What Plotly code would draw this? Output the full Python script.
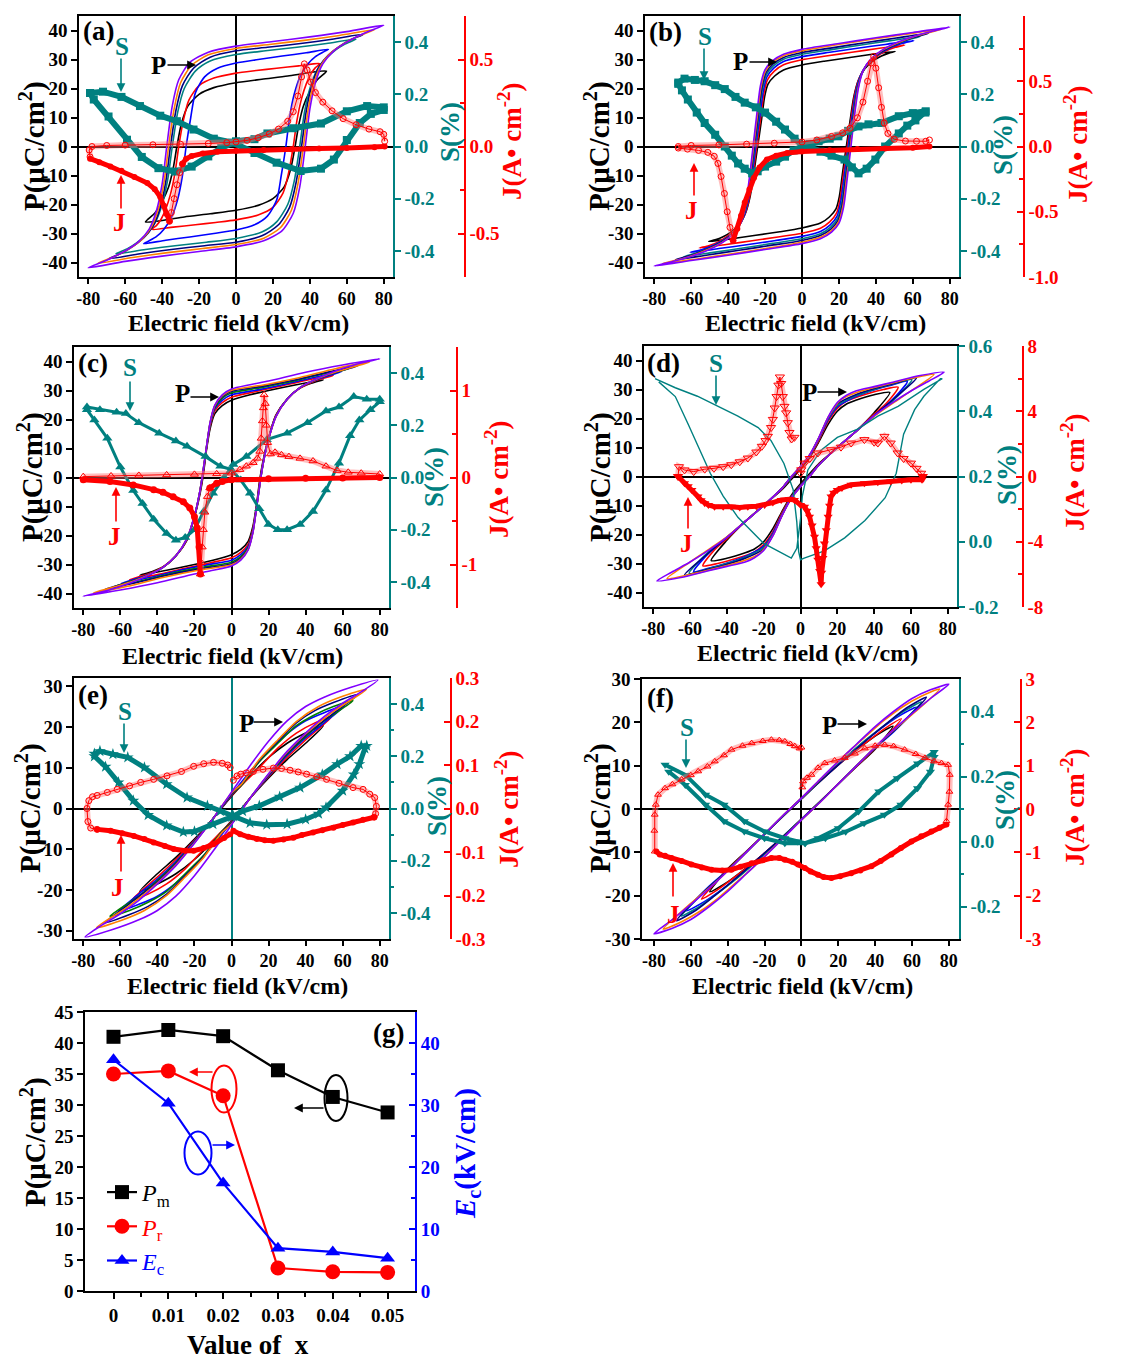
import plotly.graph_objects as go

FONT = "Liberation Serif"
W, H = 1137, 1358
TEAL = "#008080"
RED = "#FF0000"
BLUE = "#0000FF"
BLACK = "#000000"

# ---------------- tick labels ----------------
E_TICKS = [-80, -60, -40, -20, 0, 20, 40, 60, 80]
E_LABELS = ["-80", "-60", "-40", "-20", "0", "20", "40", "60", "80"]
P_TICKS_40 = [-40, -30, -20, -10, 0, 10, 20, 30, 40]
P_TICKS_30 = [-30, -20, -10, 0, 10, 20, 30]
S_TICKS_STD = [-0.4, -0.2, 0.0, 0.2, 0.4]
S_LABELS_STD = ["-0.4", "-0.2", "0.0", "0.2", "0.4"]
S_TICKS_D = [-0.2, 0.0, 0.2, 0.4, 0.6]
S_LABELS_D = ["-0.2", "0.0", "0.2", "0.4", "0.6"]
S_TICKS_F = [-0.2, 0.0, 0.2, 0.4]
S_LABELS_F = ["-0.2", "0.0", "0.2", "0.4"]
J_TICKS_A = [-0.5, 0.0, 0.5]
J_LABELS_A = ["-0.5", "0.0", "0.5"]
J_TICKS_B = [-1.0, -0.5, 0.0, 0.5, 1.0]
J_LABELS_B = ["-1.0", "-0.5", "0.0", "0.5", "1.0"]
J_TICKS_C = [-1, 0, 1]
J_LABELS_C = ["-1", "0", "1"]
J_TICKS_D = [-8, -4, 0, 4, 8]
J_LABELS_D = ["-8", "-4", "0", "4", "8"]
J_TICKS_E = [-0.3, -0.2, -0.1, 0.0, 0.1, 0.2, 0.3]
J_LABELS_E = ["-0.3", "-0.2", "-0.1", "0.0", "0.1", "0.2", "0.3"]
J_TICKS_F = [-3, -2, -1, 0, 1, 2, 3]
J_LABELS_F = ["-3", "-2", "-1", "0", "1", "2", "3"]

# ---------------- panel (g) data ----------------
X_G = [0, 0.01, 0.02, 0.03, 0.04, 0.05]
X_G_LABELS = ["0", "0.01", "0.02", "0.03", "0.04", "0.05"]
PM = [41.0, 42.1, 41.1, 35.6, 31.3, 28.8]
PR = [35.0, 35.5, 31.5, 3.7, 3.1, 3.0]
EC = [37.3, 30.3, 17.4, 6.9, 6.3, 5.3]

# ---------------- P-E loops: measured upper branch (E from +Emax to -Emax) ----------------
# loops are point-symmetric, the lower branch is the upper one mirrored through the origin
LOOPS_A = [
    [(49, 26), (40, 25.5), (28, 24.3), (14, 23.2), (0, 22), (-12, 20.3), (-20, 18), (-26, 14), (-29.5, 8), (-32, 0), (-34, -7.5), (-36.5, -14), (-40, -19), (-44, -23), (-49, -26)],
    [(45.5, 28.6), (34, 27.8), (22, 27), (11, 26.2), (0, 25.3), (-12, 23.6), (-20, 21), (-25.5, 16), (-28.5, 9), (-31, 0), (-33, -9), (-35.5, -16.5), (-38, -21.5), (-40.5, -25), (-43, -27.2), (-45.5, -28.6)],
    [(50, 33.5), (38, 32.3), (25, 31.2), (12, 30), (0, 28.8), (-10, 27), (-17, 24), (-22, 18.5), (-24.5, 10), (-27, 0), (-29, -10), (-31.5, -18), (-35, -24.5), (-39, -28.5), (-43, -31), (-47, -32.5), (-50, -33.5)],
    [(65, 37), (49, 35.5), (33, 34.2), (16, 33), (0, 31.7), (-14, 29.5), (-22, 26), (-28, 20), (-31.5, 12), (-34.5, 0), (-37, -11.5), (-40, -20), (-44, -26.5), (-49, -30.5), (-54, -33.3), (-59, -35.3), (-65, -37)],
    [(69, 38.7), (52, 37), (35, 35.5), (17, 34.2), (0, 33), (-14, 30.8), (-23, 27), (-29, 21), (-32.5, 12.5), (-35.5, 0), (-38, -12), (-41, -21), (-45, -27.5), (-50, -31.5), (-56, -34.5), (-62, -36.8), (-69, -38.7)],
    [(75, 40.3), (56, 38.3), (37, 36.6), (18, 35.2), (0, 33.8), (-15, 31.6), (-24, 28), (-30, 22), (-33.5, 13), (-36.5, 0), (-39, -12.5), (-42, -21.5), (-46, -28), (-51, -32), (-58, -35.3), (-66, -38), (-75, -40.3)],
    [(80, 41.8), (60, 39.6), (40, 37.8), (20, 36.2), (0, 34.6), (-15, 32.5), (-25, 29), (-31, 23), (-34.5, 14), (-37.5, 0), (-40, -13), (-43, -22), (-47, -28.5), (-53, -33), (-60, -36), (-70, -39.2), (-80, -41.8)],
]
LOOPS_B = [
    [(50.5, 32.8), (38, 31.8), (25, 30.6), (12, 29.4), (0, 28.1), (-10, 26.4), (-14.8, 24.3), (-18.4, 21.5), (-20.2, 17.3), (-22, 8.8), (-24, 0), (-26, -8.8), (-28, -17), (-30.5, -22.8), (-34, -26.8), (-38.5, -29.5), (-43, -31.2), (-47, -32.2), (-50.5, -32.8)],
    [(55.5, 35), (41, 33.8), (27, 32.5), (13, 31.2), (0, 29.9), (-10, 28.2), (-15, 26), (-18.7, 23), (-20.6, 18.3), (-22.5, 9.3), (-24.5, 0), (-26.5, -9.3), (-28.5, -17.8), (-31, -23.6), (-34.5, -27.6), (-39.5, -30.5), (-45, -32.8), (-50.5, -34.2), (-55.5, -35)],
    [(60.5, 36.5), (45, 35.2), (30, 33.9), (15, 32.5), (0, 31), (-10, 29.3), (-15.3, 27), (-19, 24), (-21, 19), (-23, 9.7), (-25, 0), (-27, -9.7), (-29, -18.3), (-31.5, -24.2), (-35, -28.2), (-40, -31.2), (-47, -33.8), (-54, -35.5), (-60.5, -36.5)],
    [(64, 38), (48, 36.5), (32, 35), (16, 33.4), (0, 31.8), (-10, 30.1), (-15.5, 27.8), (-19.3, 24.8), (-21.5, 19.5), (-23.5, 10), (-25.5, 0), (-27.5, -10), (-29.5, -18.7), (-32, -24.6), (-35.5, -28.6), (-41, -31.8), (-48, -34.4), (-56, -36.5), (-64, -38)],
    [(68.5, 39), (51, 37.4), (34, 35.8), (17, 34.1), (0, 32.4), (-10, 30.7), (-15.8, 28.4), (-19.6, 25.4), (-21.8, 20), (-23.8, 10.2), (-25.8, 0), (-27.8, -10.2), (-29.8, -19), (-32.3, -25), (-36, -29), (-42, -32.3), (-50, -35), (-59, -37.3), (-68.5, -39)],
    [(75.5, 40.4), (56, 38.7), (37, 36.9), (18, 35), (0, 33), (-10, 31.3), (-16, 29), (-19.8, 26), (-22.2, 20.5), (-24.2, 10.5), (-26.2, 0), (-28.2, -10.5), (-30.2, -19.5), (-32.7, -25.5), (-36.5, -29.5), (-43, -33), (-51, -35.5), (-62, -38.2), (-75.5, -40.4)],
    [(80, 41.2), (60, 39.3), (40, 37.5), (20, 35.5), (0, 33.5), (-10, 31.8), (-16, 29.5), (-20, 26.5), (-22.5, 21), (-24.5, 11), (-26.5, 0), (-28.5, -11), (-30.5, -20), (-33, -26), (-37, -30), (-44, -33.5), (-52, -36), (-62, -38.3), (-71, -39.8), (-80, -41.2)],
]
LOOPS_C = [
    [(49.5, 33.7), (35, 32), (20, 30), (10, 28.5), (0, 26.6), (-5, 24.8), (-9, 22), (-11.5, 17), (-13.5, 9.5), (-15.2, 1), (-16.8, -5), (-19.5, -12.5), (-24, -21.5), (-30, -27), (-36, -30.5), (-43, -32.5), (-49.5, -33.7)],
    [(55, 35.2), (40, 33.5), (25, 31.3), (12, 29.5), (0, 27.7), (-5, 25.8), (-9, 23), (-11.5, 17.8), (-13.5, 10), (-15.3, 1.2), (-16.9, -4.8), (-19.5, -12.3), (-24, -21.5), (-30, -27), (-37, -30.8), (-45, -33.3), (-55, -35.2)],
    [(59.5, 36.5), (45, 34.6), (30, 32.3), (15, 30.3), (0, 28.5), (-5, 26.6), (-9, 23.7), (-11.5, 18.3), (-13.5, 10.2), (-15.4, 1.3), (-17, -4.7), (-19.5, -12.2), (-24, -21.3), (-30, -27), (-37, -31), (-47, -34), (-59.5, -36.5)],
    [(64, 37.7), (48, 35.5), (32, 33), (16, 31), (0, 29.2), (-5, 27.3), (-9, 24.2), (-11.5, 18.7), (-13.5, 10.4), (-15.5, 1.4), (-17, -4.6), (-19.5, -12.1), (-24, -21.2), (-30, -27), (-37, -31), (-48, -34.5), (-64, -37.7)],
    [(68.5, 38.6), (51, 36.2), (34, 33.6), (17, 31.5), (0, 29.7), (-5, 27.8), (-9, 24.6), (-11.5, 18.9), (-13.5, 10.5), (-15.5, 1.5), (-17, -4.5), (-19.5, -12), (-24, -21.1), (-30, -27), (-37, -31), (-50, -35), (-68.5, -38.6)],
    [(74.5, 39.8), (56, 37.5), (37, 34.5), (18, 32), (0, 30.1), (-5, 28.2), (-9, 24.8), (-11.5, 19), (-13.5, 10.5), (-15.5, 1.5), (-17, -4.5), (-19.5, -12), (-24, -21), (-30, -27), (-37, -31), (-52, -35.5), (-74.5, -39.8)],
    [(80, 40.9), (60, 38.8), (40, 36.3), (20, 33.3), (10, 32), (0, 30.5), (-5, 28.5), (-9, 25), (-11.5, 19.2), (-13.5, 10.6), (-15.5, 1.5), (-17, -4.5), (-19.5, -12), (-24, -21), (-30, -27), (-37, -31), (-44, -33.5), (-55, -36.5), (-67, -39), (-80, -40.9)],
]
LOOPS_D = [
    [(48.5, 29), (40, 28.2), (30, 26.3), (25, 25), (20, 22.5), (15, 18), (10, 12), (5, 6.5), (0, 2.5), (-5, -1), (-10, -4.5), (-20, -10), (-30, -15.5), (-40, -22), (-48.5, -29)],
    [(53, 30.8), (45, 30), (35, 28.3), (25, 26), (20, 23.5), (15, 19), (10, 12.5), (5, 7), (0, 3), (-5, -0.5), (-10, -4.2), (-20, -10), (-30, -15.5), (-40, -21.5), (-47, -25.5), (-53, -30.8)],
    [(58, 32.8), (48, 31.3), (38, 29.5), (28, 27), (20, 24), (15, 19.5), (10, 13), (5, 7.2), (0, 3.2), (-5, -0.3), (-10, -4), (-20, -10), (-30, -15.5), (-40, -21), (-50, -26.5), (-58, -32.8)],
    [(60.5, 33.4), (50, 31.8), (40, 30), (30, 27.8), (20, 24.5), (15, 20), (10, 13.2), (5, 7.3), (0, 3.3), (-5, -0.2), (-10, -4), (-20, -10), (-30, -15.5), (-40, -21), (-50, -26), (-60.5, -33.4)],
    [(63, 34), (52, 32.3), (41, 30.5), (30, 28.2), (20, 25), (15, 20.2), (10, 13.3), (5, 7.4), (0, 3.4), (-5, -0.1), (-10, -4), (-20, -10), (-30, -15.5), (-40, -21), (-52, -27.5), (-63, -34)],
    [(72.5, 35.2), (60, 33.8), (45, 31.5), (32, 29.3), (22, 26.5), (15, 20.4), (10, 13.4), (5, 7.5), (0, 3.5), (-5, 0), (-10, -4), (-20, -10), (-30, -15.5), (-40, -20.8), (-50, -25.2), (-60, -29.5), (-72.5, -35.2)],
    [(78, 36), (65, 34.8), (50, 32.5), (40, 31), (30, 29.5), (25, 28), (20, 25.5), (15, 20.5), (10, 13.5), (5, 7.5), (0, 3.5), (-5, 0), (-10, -4), (-20, -10), (-30, -15.5), (-40, -21), (-50, -25.5), (-60, -29.5), (-70, -33), (-78, -36)],
]
LOOPS_E = [
    [(49.5, 20.3), (40, 18.5), (30, 16), (20, 12.5), (10, 8), (0, 3), (-10, -2.5), (-20, -7.5), (-30, -12), (-40, -16), (-49.5, -20.3)],
    [(54, 22.5), (45, 21), (35, 18.5), (25, 14.8), (15, 10), (5, 5.5), (0, 3.2), (-10, -2.5), (-20, -7.8), (-30, -12.5), (-40, -16.8), (-54, -22.5)],
    [(61, 25.2), (50, 23.5), (40, 21.5), (30, 18.3), (20, 14), (10, 9), (0, 3.4), (-10, -2.5), (-20, -8), (-30, -13), (-40, -17.3), (-50, -21), (-61, -25.2)],
    [(65.6, 26.4), (55, 25), (45, 23), (35, 20.3), (25, 16), (15, 11.5), (5, 5.5), (0, 3.5), (-10, -2.5), (-20, -8.2), (-30, -13.3), (-40, -17.7), (-50, -21.5), (-65.6, -26.4)],
    [(68.3, 28), (55, 26), (45, 24), (35, 21), (25, 16.5), (15, 11.8), (5, 5.7), (0, 3.6), (-10, -2.5), (-20, -8.3), (-30, -13.5), (-40, -18), (-55, -23.3), (-68.3, -28)],
    [(72.8, 29.2), (60, 27.5), (47, 25), (35, 21.3), (25, 16.8), (15, 12), (5, 5.8), (0, 3.8), (-10, -2.5), (-20, -8.4), (-30, -13.8), (-40, -18.3), (-55, -23.8), (-72.8, -29.2)],
    [(79, 31.5), (65, 29.8), (50, 27.3), (40, 25), (30, 21.5), (20, 16.5), (10, 10.5), (0, 4), (-10, -2.5), (-20, -8.5), (-30, -14), (-40, -18.5), (-50, -22.5), (-60, -25.8), (-70, -28.6), (-79, -31.5)],
]
LOOPS_F = [
    [(49.7, 19.1), (40, 16.8), (30, 13.6), (20, 10.2), (10, 6.4), (0, 2.3), (-10, -1.7), (-20, -5.8), (-30, -9.8), (-40, -13.8), (-49.7, -19.1)],
    [(54.2, 20.8), (45, 18.5), (35, 15.3), (25, 12), (15, 8.3), (5, 4.4), (0, 2.4), (-10, -1.6), (-20, -5.8), (-30, -9.9), (-40, -14), (-54.2, -20.8)],
    [(62.4, 23.5), (52, 21.2), (42, 18.2), (32, 14.8), (22, 11.2), (12, 7.3), (0, 2.4), (-10, -1.6), (-20, -5.8), (-30, -10), (-40, -14.1), (-50, -17.8), (-62.4, -23.5)],
    [(65.1, 24.7), (55, 22.4), (45, 19.3), (35, 16), (25, 12.3), (15, 8.3), (0, 2.4), (-10, -1.6), (-20, -5.8), (-30, -10), (-40, -14.2), (-52, -18.8), (-65.1, -24.7)],
    [(67.8, 25.8), (57, 23.3), (47, 20), (37, 16.5), (27, 12.8), (15, 8.3), (0, 2.5), (-10, -1.6), (-20, -5.8), (-30, -10), (-40, -14.2), (-54, -19.5), (-67.8, -25.8)],
    [(75, 27.7), (65, 26), (55, 23.6), (45, 20.5), (35, 16.8), (25, 13), (12, 7.6), (0, 2.5), (-10, -1.5), (-20, -5.8), (-30, -10), (-40, -14.3), (-50, -18.2), (-62, -22.5), (-75, -27.7)],
    [(80, 28.8), (70, 27.5), (60, 25.5), (50, 22.5), (40, 19), (30, 15), (20, 11), (10, 6.8), (0, 2.5), (-10, -1.5), (-20, -5.8), (-30, -10), (-40, -14.3), (-50, -18.3), (-60, -22), (-70, -25.5), (-80, -28.8)],
]

# ---------------- strain S (E increasing, then E decreasing) ----------------
S_A_UP = [(-79, 0.205), (-72, 0.21), (-62, 0.19), (-52, 0.155), (-41, 0.118), (-32, 0.097), (-23, 0.065), (-12, 0.03), (-2, 0.015), (10, -0.025), (22, -0.062), (35, -0.094), (46, -0.085), (53, -0.05), (60, 0.025), (67, 0.09), (73, 0.125), (80, 0.14)]
S_A_DOWN = [(80, 0.15), (71, 0.155), (60, 0.135), (46, 0.088), (31, 0.07), (17, 0.05), (10, 0.028), (0, 0.02), (-8, -0.006), (-15, -0.038), (-24, -0.077), (-33, -0.096), (-42, -0.083), (-51, -0.04), (-59, 0.026), (-69, 0.115), (-77, 0.18), (-79, 0.205)]
S_B_UP = [(-67, 0.245), (-63.6, 0.26), (-58, 0.255), (-52.7, 0.25), (-47, 0.235), (-41.8, 0.22), (-36, 0.19), (-31, 0.168), (-25, 0.15), (-20, 0.13), (-14, 0.095), (-9.2, 0.065), (-4, 0.03), (0, 0.005), (5, -0.005), (10, -0.02), (16, -0.035), (23, -0.05), (27, -0.08), (30.6, -0.103), (35, -0.085), (39.7, -0.05), (45, 0.0), (52.4, 0.05), (57, 0.08), (61.4, 0.1), (66.8, 0.13)]
S_B_DOWN = [(67, 0.135), (60, 0.128), (52.4, 0.116), (43, 0.09), (36, 0.085), (30.6, 0.077), (25, 0.06), (19.7, 0.039), (15, 0.03), (9, 0.02), (4, 0.01), (0, 0.0), (-4.5, -0.015), (-9.2, -0.039), (-14, -0.058), (-20, -0.077), (-24, -0.095), (-27, -0.103), (-31, -0.085), (-34.6, -0.065), (-38, -0.035), (-41.8, 0.0), (-47, 0.045), (-52.7, 0.09), (-57, 0.13), (-61.8, 0.18), (-65, 0.215), (-67, 0.24)]
S_C_UP = [(-78, 0.27), (-71, 0.26), (-62, 0.25), (-57, 0.245), (-50, 0.21), (-39, 0.17), (-30, 0.14), (-24, 0.12), (-14, 0.08), (-6, 0.043), (0, 0.03), (5, -0.01), (10, -0.06), (15, -0.12), (20, -0.18), (25, -0.2), (30, -0.2), (37, -0.18), (44, -0.13), (51, -0.048), (58, 0.055), (64, 0.16), (69, 0.22), (75, 0.26), (80, 0.29)]
S_C_DOWN = [(80, 0.3), (73, 0.3), (66, 0.31), (58, 0.27), (51, 0.255), (41, 0.21), (30, 0.17), (19, 0.145), (8, 0.08), (1, 0.05), (-4, 0.0), (-10, -0.06), (-15, -0.13), (-20, -0.2), (-25, -0.23), (-30, -0.24), (-35, -0.215), (-42, -0.16), (-48, -0.1), (-53, -0.05), (-60, 0.04), (-67, 0.15), (-74, 0.22), (-78, 0.26)]
S_D_UP = [(-79, 0.5), (-68, 0.472), (-56, 0.446), (-47, 0.42), (-34, 0.385), (-23, 0.35), (-16, 0.31), (-9, 0.24), (-4, 0.16), (-2, 0.06), (-1, -0.03), (0, -0.055), (2, -0.05), (13, -0.028), (24, 0.012), (35, 0.065), (46, 0.135), (52, 0.21), (56, 0.33), (62, 0.405), (67, 0.446), (76, 0.5)]
S_D_DOWN = [(77, 0.5), (67, 0.467), (53, 0.415), (42, 0.385), (31, 0.345), (20, 0.32), (11, 0.28), (4, 0.22), (1, 0.14), (0, 0.07), (-2, -0.02), (-5, -0.05), (-12, -0.03), (-20, -0.005), (-34, 0.075), (-42, 0.14), (-49, 0.21), (-56, 0.3), (-61, 0.36), (-68, 0.445), (-77, 0.49)]
S_E_UP = [(-74, 0.21), (-71, 0.22), (-64, 0.208), (-56, 0.196), (-47, 0.157), (-35, 0.093), (-24, 0.042), (-13, 0.01), (-6, -0.01), (1, -0.03), (10, -0.055), (19, -0.062), (30, -0.06), (40, -0.042), (47, -0.02), (51, 0.004), (60, 0.068), (66, 0.13), (69, 0.17), (72, 0.23)]
S_E_DOWN = [(73, 0.24), (70, 0.24), (64, 0.2), (57, 0.17), (49, 0.13), (37, 0.08), (26, 0.045), (15, 0.01), (6, -0.01), (0, -0.032), (-10, -0.06), (-20, -0.088), (-26, -0.09), (-35, -0.065), (-45, -0.025), (-53, 0.03), (-61, 0.1), (-68, 0.16), (-74, 0.2)]
S_F_UP = [(-74, 0.236), (-63, 0.205), (-52, 0.144), (-42, 0.113), (-31, 0.062), (-20, 0.031), (-9, 0.01), (-2, 0.0), (2, -0.005), (13, 0.01), (24, 0.03), (34, 0.056), (45, 0.082), (54, 0.113), (63, 0.164), (70, 0.215), (72, 0.26)]
S_F_DOWN = [(72, 0.275), (63, 0.24), (52, 0.195), (42, 0.154), (31, 0.092), (20, 0.041), (9, 0.01), (2, -0.005), (-9, -0.005), (-20, 0.01), (-31, 0.031), (-42, 0.062), (-52, 0.113), (-63, 0.174), (-72, 0.215)]

# ---------------- current density J (open / filled symbol runs; None = break) ----------------
J_A_OPEN = [(-79, -0.06), (-79.5, -0.02), (-78, 0.0), (-70, 0.006), (-60, 0.008), (-45, 0.01), (-30, 0.013), (-15, 0.017), (-5, 0.022), (0, 0.026), (6, 0.035), (12, 0.05), (18, 0.072), (23, 0.1), (28, 0.145), (31, 0.2), (33.5, 0.29), (35.5, 0.4), (37, 0.475), (38.5, 0.44), (40.5, 0.37), (43, 0.31), (47, 0.255), (52, 0.205), (58, 0.16), (65, 0.125), (72, 0.1), (78, 0.085), (80, 0.07), (80.5, 0.03),
            None, (-29, -0.1), (-30.5, -0.15), (-32, -0.22), (-33.5, -0.3), (-35, -0.38), (-36, -0.43)]
J_A_FILLED = [(80.5, 0.0), (75, -0.004), (60, -0.008), (45, -0.012), (30, -0.016), (15, -0.02), (0, -0.025), (-10, -0.03), (-18, -0.04), (-24, -0.055), (-27, -0.07), (-29, -0.1),
              None, (-36, -0.43), (-37.5, -0.39), (-39, -0.34), (-41, -0.29), (-44, -0.245), (-48, -0.21), (-55, -0.175), (-62, -0.14), (-68, -0.115), (-74, -0.09), (-79, -0.07)]
J_B_OPEN = [(-67, 0.0), (-60, 0.008), (-45, 0.012), (-30, 0.018), (-15, 0.025), (0, 0.035), (8, 0.05), (16, 0.077), (22, 0.105), (26, 0.14), (30, 0.22), (33, 0.34), (35.5, 0.5), (37.5, 0.64), (38.8, 0.69), (40, 0.6), (41.5, 0.45), (43, 0.3), (44.5, 0.18), (46.5, 0.1), (50, 0.055), (56, 0.042), (62, 0.04), (67, 0.04), (69, 0.05),
            None, (-37.3, -0.72), (-39, -0.62), (-40.5, -0.5), (-42, -0.36), (-43.8, -0.23), (-45.5, -0.13), (-47.5, -0.075), (-51, -0.045), (-56, -0.03), (-62, -0.02), (-67, -0.012)]
J_B_FILLED = [(69, 0.0), (60, -0.01), (45, -0.015), (30, -0.02), (15, -0.028), (0, -0.038), (-8, -0.05), (-14, -0.07), (-19, -0.1), (-23, -0.16), (-26, -0.24), (-28.5, -0.33), (-31, -0.43), (-33, -0.53), (-35, -0.63), (-37.3, -0.72)]
J_C_OPEN = [(-80, 0.01), (-65, 0.018), (-50, 0.024), (-35, 0.03), (-20, 0.036), (-8, 0.042), (0, 0.05), (4.5, 0.09), (8, 0.13), (11.7, 0.17), (14, 0.22), (15.3, 0.3), (16, 0.45), (16.7, 0.65), (17.2, 0.8), (17.6, 0.95), (18.2, 0.85), (18.8, 0.6), (19.5, 0.4), (21, 0.27), (23.5, 0.29), (27, 0.26), (31, 0.24), (37, 0.22), (44, 0.19), (51, 0.13), (57, 0.08), (63, 0.06), (70, 0.05), (80, 0.04),
            None, (-11.7, -0.12), (-13, -0.22), (-14.4, -0.4), (-15.2, -0.6), (-15.8, -0.8), (-16.3, -0.98), (-16.8, -1.11)]
J_C_FILLED = [(80, 0.0), (60, -0.005), (40, -0.01), (20, -0.015), (0, -0.027), (-5, -0.045), (-8, -0.066), (-11.7, -0.12),
              None, (-16.8, -1.11), (-17.5, -0.8), (-18.5, -0.58), (-20, -0.45), (-22.5, -0.35), (-26, -0.28), (-31.5, -0.22), (-37, -0.17), (-42, -0.14), (-53, -0.085), (-65.6, -0.047), (-80, -0.027)]
J_D_OPEN = [(-66.5, 0.0), (-66, 0.6), (-63, 0.4), (-58, 0.3), (-52, 0.45), (-47, 0.5), (-42, 0.6), (-37.6, 0.72), (-33, 0.9), (-28.6, 1.13), (-24, 1.5), (-21, 1.85), (-19, 2.2), (-17.7, 2.46), (-16, 3.0), (-15, 3.5), (-14, 4.2), (-13, 4.9), (-12, 5.6), (-11.2, 6.1), (-10.5, 5.7), (-9.6, 4.9), (-8.7, 4.3), (-7.8, 3.9), (-6.9, 3.3), (-6, 2.7), (-4.8, 2.3), (-3.3, 2.4),
            None, (0, 0.2), (0.4, 0.41), (2.2, 0.82), (5, 1.1), (9.4, 1.44), (16.6, 1.64), (22, 1.8), (27.5, 2.05), (34.7, 2.26), (40, 2.1), (42, 2.05), (45.6, 2.46), (49, 2.05), (52.8, 1.44), (56, 1.1), (60, 0.82), (63, 0.5), (65.5, 0.2), (66.4, 0.0)]
J_D_FILLED = [(66.4, 0.0), (66, -0.2), (60, -0.2), (55, -0.25), (49, -0.3), (42, -0.36), (34.7, -0.41), (27.5, -0.51), (22.5, -0.7), (20, -0.82), (18, -1.0), (16.6, -1.23), (15.8, -1.8), (15, -2.46), (14, -3.3), (13, -4.1), (12.2, -5.0), (11.5, -5.9), (11.2, -6.6), (10.4, -5.8), (9.4, -5.1), (8.5, -4.4), (7.6, -3.7), (6.3, -3.0), (4.9, -2.46), (3.5, -2.1), (2.2, -1.85), (0, -1.74), (-3.3, -1.44), (-6, -1.4), (-10.5, -1.44), (-15, -1.6), (-19.5, -1.74), (-24, -1.82), (-28.6, -1.85), (-33, -1.9), (-37.6, -1.85), (-42, -1.85), (-46.7, -1.85), (-50, -1.75), (-52, -1.64), (-54, -1.45), (-55.7, -1.23), (-59, -0.82), (-61, -0.6), (-63, -0.41), (-66.5, 0.0)]
J_E_OPEN = [(-72.5, -0.048), (-76, -0.045), (-77.5, -0.03), (-78, 0.0), (-77, 0.018), (-75, 0.027), (-72.5, 0.03), (-67, 0.037), (-61.7, 0.044), (-55, 0.052), (-49, 0.06), (-42, 0.067), (-34.8, 0.075), (-27, 0.085), (-20.4, 0.097), (-15, 0.103), (-9.7, 0.106), (-5, 0.104), (-2, 0.1), (-0.7, 0.094),
            None, (1, 0.065), (3, 0.075), (5, 0.079), (8, 0.082), (11.8, 0.085), (17, 0.09), (22.6, 0.093), (27, 0.092), (31.6, 0.088), (36, 0.084), (40.5, 0.079), (46, 0.073), (51.3, 0.067), (58, 0.058), (65.6, 0.048), (71, 0.044), (74.6, 0.033), (77.3, 0.025), (78.2, 0.005), (77.8, -0.012), (77, -0.02)]
J_E_FILLED = [(77, -0.02), (71, -0.026), (65.6, -0.032), (60, -0.038), (55, -0.044), (49, -0.05), (44, -0.055), (38, -0.061), (33.4, -0.067), (28, -0.071), (22.6, -0.074), (18, -0.073), (13.6, -0.07), (9, -0.065), (4.7, -0.059), (1, -0.051),
              None, (-0.7, -0.059), (-4, -0.068), (-9.7, -0.082), (-15, -0.091), (-20.4, -0.097), (-25, -0.097), (-31.2, -0.093), (-36, -0.086), (-42, -0.078), (-47, -0.07), (-52.7, -0.063), (-59, -0.057), (-65.3, -0.051), (-72.5, -0.048)]
J_F_OPEN = [(-79.6, -0.98), (-79.8, -0.5), (-79.6, -0.13), (-79, 0.1), (-77.8, 0.33), (-74, 0.48), (-70, 0.57), (-65, 0.68), (-60, 0.78), (-56, 0.87), (-51, 0.98), (-47, 1.1), (-42, 1.24), (-38, 1.37), (-32, 1.46), (-27, 1.52), (-21, 1.57), (-16.3, 1.6), (-12, 1.59), (-9, 1.56), (-6, 1.5), (-3.6, 1.45), (-1, 1.4), (0, 1.42),
            None, (0.5, 0.5), (0.9, 0.64), (3, 0.72), (5.4, 0.79), (9, 0.95), (12.7, 1.06), (18, 1.12), (23.5, 1.18), (29, 1.28), (34.4, 1.4), (40, 1.46), (45.2, 1.48), (50, 1.45), (56, 1.37), (62, 1.27), (67, 1.18), (72, 1.1), (76, 1.06), (79.6, 1.02), (80.5, 0.79), (80.3, 0.4), (79.6, 0.1), (78.7, -0.28)]
J_F_FILLED = [(78.7, -0.36), (75, -0.43), (70.5, -0.52), (65, -0.63), (59.7, -0.75), (54, -0.9), (48.8, -1.05), (43, -1.2), (38, -1.32), (32, -1.42), (27, -1.48), (21, -1.55), (16.3, -1.59), (12, -1.57), (9, -1.52), (5, -1.44), (1.8, -1.36), (-1.8, -1.28), (-5, -1.22), (-9, -1.17), (-12, -1.13), (-16.3, -1.13), (-21, -1.18), (-27, -1.25), (-33, -1.33), (-38, -1.4), (-43, -1.42), (-48.8, -1.4), (-54, -1.35), (-59.7, -1.28), (-65, -1.2), (-70.5, -1.13), (-74, -1.08), (-76.9, -1.05), (-78.7, -0.98)]


# ---------------- helpers ----------------
# the page body adds an 8 px offset; positions below are reference-image pixels
OFF = 8


def px(x):
    return (x - OFF) / W


def py(y):
    return 1 - (y - OFF) / H


def xy(points):
    xs, ys = [], []
    for p in points:
        if p is None:
            xs.append(None)
            ys.append(None)
        else:
            xs.append(p[0])
            ys.append(p[1])
    return xs, ys


def full_loop(upper):
    return upper + [(-e, -p) for e, p in upper[1:]]


def xname(n):
    return "x" if n == 1 else f"x{n}"


def yname(n):
    return "y" if n == 1 else f"y{n}"


def xkey(n):
    return "xaxis" if n == 1 else f"xaxis{n}"


def ykey(n):
    return "yaxis" if n == 1 else f"yaxis{n}"


def tfont(color, size=19):
    return dict(family=FONT, size=size, color=color, weight="bold")


annotations = []
shapes = []


def text(x, y, t, size, color, angle=0, xanchor="center"):
    annotations.append(dict(xref="paper", yref="paper", x=px(x), y=py(y), text=t, showarrow=False,
                            textangle=angle, xanchor=xanchor, yanchor="middle",
                            font=dict(family=FONT, size=size, color=color)))


def arrow(x0, y0, x1, y1, color):
    annotations.append(dict(xref="paper", yref="paper", x=px(x1), y=py(y1), text="",
                            showarrow=True, axref="pixel", ayref="pixel", ax=x0 - x1, ay=y0 - y1,
                            arrowhead=2, arrowsize=1.1, arrowwidth=1.6, arrowcolor=color))


COLORS_T = [BLACK, RED, BLUE, "#008080", "#000080", "#FF8000", "#8000FF"]
COLORS_G = [BLACK, RED, BLUE, "#008000", "#000080", "#FF8000", "#8000FF"]

PANELS = [
    dict(lab="(a)", loops=LOOPS_A, colors=COLORS_T, s=S_A_UP + S_A_DOWN, jo=J_A_OPEN, jf=J_A_FILLED,
         xd=(79, 393), yd=(16, 277), xr=(-85, 85), pr=(-45, 45), pt=P_TICKS_40,
         sr=(-0.5, 0.5), st=S_TICKS_STD, sl=S_LABELS_STD, smin=[],
         jr=(-0.75, 0.75), jt=J_TICKS_A, jl=J_LABELS_A, jmin=[-0.25, 0.25], jpos=465,
         s_sym="square", s_ms=8, s_lw=6, jo_sym="circle-open", jf_sym="circle", j_ms=6,
         labp=(81, 31), s_t=(122, 46), s_a=(121, 57, 121, 92), p_t=(158, 66), p_a=(166, 65, 196, 65),
         j_t=(119, 222), j_a=(121, 210, 121, 175), ptl=(33, 146), stl=(450, 132), jtl=(510, 142), xtl=(238, 323), zc=BLACK),
    dict(lab="(b)", loops=LOOPS_B, colors=COLORS_T, s=S_B_UP + S_B_DOWN, jo=J_B_OPEN, jf=J_B_FILLED,
         xd=(645, 959), yd=(16, 277), xr=(-85, 85), pr=(-45, 45), pt=P_TICKS_40,
         sr=(-0.5, 0.5), st=S_TICKS_STD, sl=S_LABELS_STD, smin=[],
         jr=(-1, 1), jt=J_TICKS_B, jl=J_LABELS_B, jmin=[-0.75, -0.25, 0.25, 0.75], jpos=1024,
         s_sym="square", s_ms=8, s_lw=6, jo_sym="circle-open", jf_sym="circle", j_ms=6,
         labp=(647, 32), s_t=(705, 36), s_a=(704, 47, 704, 80), p_t=(740, 62), p_a=(748, 62, 777, 62),
         j_t=(691, 210), j_a=(694, 197, 694, 163), ptl=(598, 146), stl=(1003, 145), jtl=(1076, 145), xtl=(815, 323), zc=BLACK),
    dict(lab="(c)", loops=LOOPS_C, colors=COLORS_G, s=S_C_UP + S_C_DOWN, jo=J_C_OPEN, jf=J_C_FILLED,
         xd=(74, 389), yd=(347, 608), xr=(-85, 85), pr=(-45, 45), pt=P_TICKS_40,
         sr=(-0.5, 0.5), st=S_TICKS_STD, sl=S_LABELS_STD, smin=[],
         jr=(-1.5, 1.5), jt=J_TICKS_C, jl=J_LABELS_C, jmin=[-0.5, 0.5], jpos=457,
         s_sym="triangle-up", s_ms=9, s_lw=3, jo_sym="triangle-up-open", jf_sym="circle", j_ms=7,
         labp=(76, 363), s_t=(130, 368), s_a=(130, 380, 130, 411), p_t=(182, 393), p_a=(189, 397, 219, 397),
         j_t=(114, 537), j_a=(116, 523, 116, 487), ptl=(30, 477), stl=(434, 477), jtl=(497, 480), xtl=(232, 656), zc=BLACK),
    dict(lab="(d)", loops=LOOPS_D, colors=COLORS_T, s=S_D_UP + S_D_DOWN, jo=J_D_OPEN, jf=J_D_FILLED,
         xd=(644, 957), yd=(346, 607), xr=(-85, 85), pr=(-45, 45), pt=P_TICKS_40,
         sr=(-0.2, 0.6), st=S_TICKS_D, sl=S_LABELS_D, smin=[],
         jr=(-8, 8), jt=J_TICKS_D, jl=J_LABELS_D, jmin=[-6, -2, 2, 6], jpos=1023,
         s_sym=None, s_ms=0, s_lw=1.4, jo_sym="triangle-down-open", jf_sym="triangle-down", j_ms=8,
         labp=(645, 363), s_t=(716, 364), s_a=(716, 374, 716, 405), p_t=(809, 392), p_a=(816, 392, 847, 392),
         j_t=(686, 544), j_a=(688, 530, 688, 497), ptl=(598, 477), stl=(1007, 475), jtl=(1073, 473), xtl=(807, 653), zc=BLACK),
    dict(lab="(e)", loops=LOOPS_E, colors=COLORS_G, s=S_E_UP + S_E_DOWN, jo=J_E_OPEN, jf=J_E_FILLED,
         xd=(74, 389), yd=(678, 939), xr=(-85, 85), pr=(-32, 32), pt=P_TICKS_30,
         sr=(-0.5, 0.5), st=S_TICKS_STD, sl=S_LABELS_STD, smin=[-0.3, -0.1, 0.1, 0.3],
         jr=(-0.3, 0.3), jt=J_TICKS_E, jl=J_LABELS_E, jmin=[], jpos=451,
         s_sym="star", s_ms=9, s_lw=5, jo_sym="circle-open", jf_sym="circle", j_ms=6,
         labp=(76, 695), s_t=(125, 711), s_a=(124, 722, 124, 753), p_t=(246, 723), p_a=(252, 722, 283, 722),
         j_t=(117, 887), j_a=(121, 873, 121, 835), ptl=(28, 808), stl=(437, 806), jtl=(507, 810), xtl=(237, 986), zc=TEAL),
    dict(lab="(f)", loops=LOOPS_F, colors=COLORS_T, s=S_F_UP + S_F_DOWN, jo=J_F_OPEN, jf=J_F_FILLED,
         xd=(642, 959), yd=(679, 939), xr=(-86.5, 85.5), pr=(-30, 30), pt=P_TICKS_30,
         sr=(-0.3, 0.5), st=S_TICKS_F, sl=S_LABELS_F, smin=[-0.1, 0.1, 0.3],
         jr=(-3, 3), jt=J_TICKS_F, jl=J_LABELS_F, jmin=[], jpos=1021,
         s_sym="triangle-down", s_ms=8, s_lw=4, jo_sym="triangle-up-open", jf_sym="circle", j_ms=6,
         labp=(645, 698), s_t=(687, 727), s_a=(686, 738, 686, 768), p_t=(829, 725), p_a=(836, 724, 867, 724),
         j_t=(673, 914), j_a=(673, 898, 673, 863), ptl=(598, 808), stl=(1005, 800), jtl=(1073, 808), xtl=(802, 986), zc=BLACK),
]

fig = go.Figure()
layout = {}

for k, c in enumerate(PANELS):
    xn, yp, ys, yj = k + 1, 3 * k + 1, 3 * k + 2, 3 * k + 3
    xr_, ypr, ysr, yjr = xname(xn), yname(yp), yname(ys), yname(yj)

    # loops
    for loop, col in zip(c["loops"], c["colors"]):
        lx, ly = xy(full_loop(loop))
        fig.add_trace(go.Scatter(x=lx, y=ly, mode="lines", xaxis=xr_, yaxis=ypr, showlegend=False,
                                 hoverinfo="skip",
                                 line=dict(color=col, width=1.6, shape="spline", smoothing=0.7)))
    # strain
    sx, sy = xy(c["s"])
    if c["s_sym"]:
        fig.add_trace(go.Scatter(x=sx, y=sy, mode="lines+markers", xaxis=xr_, yaxis=ysr, showlegend=False,
                                 hoverinfo="skip", line=dict(color=TEAL, width=c["s_lw"]),
                                 marker=dict(symbol=c["s_sym"], size=c["s_ms"], color=TEAL)))
    else:
        fig.add_trace(go.Scatter(x=sx, y=sy, mode="lines", xaxis=xr_, yaxis=ysr, showlegend=False,
                                 hoverinfo="skip", line=dict(color=TEAL, width=c["s_lw"])))
    # current density
    ox, oy = xy(c["jo"])
    fx, fy = xy(c["jf"])
    fig.add_trace(go.Scatter(x=ox, y=oy, mode="lines", xaxis=xr_, yaxis=yjr, showlegend=False, hoverinfo="skip",
                             line=dict(color="rgba(255,110,110,0.45)", width=6)))
    fig.add_trace(go.Scatter(x=ox, y=oy, mode="lines+markers", xaxis=xr_, yaxis=yjr, showlegend=False,
                             hoverinfo="skip", line=dict(color=RED, width=1),
                             marker=dict(symbol=c["jo_sym"], size=c["j_ms"], color=RED, line=dict(width=1))))
    fig.add_trace(go.Scatter(x=fx, y=fy, mode="lines+markers", xaxis=xr_, yaxis=yjr, showlegend=False,
                             hoverinfo="skip", line=dict(color=RED, width=5),
                             marker=dict(symbol=c["jf_sym"], size=c["j_ms"], color=RED)))

    ydom = [py(c["yd"][1]), py(c["yd"][0])]
    layout[xkey(xn)] = dict(domain=[px(c["xd"][0]), px(c["xd"][1])], range=list(c["xr"]), anchor=ypr,
                            tickvals=E_TICKS, ticktext=E_LABELS, ticks="outside", ticklen=5, tickwidth=1.5,
                            tickcolor=BLACK, showline=True, linecolor=BLACK, linewidth=1.5, mirror=True,
                            zeroline=True, zerolinecolor=c["zc"], zerolinewidth=1.5, showgrid=False,
                            tickfont=tfont(BLACK, 18))
    layout[ykey(yp)] = dict(domain=ydom, range=list(c["pr"]), anchor=xr_, tickvals=c["pt"],
                            ticktext=[str(v) for v in c["pt"]], ticks="outside", ticklen=6, tickwidth=1.5,
                            tickcolor=BLACK, showline=True, linecolor=BLACK, linewidth=1.5, zeroline=True,
                            zerolinecolor=BLACK, zerolinewidth=1.5, showgrid=False, tickfont=tfont(BLACK))
    layout[ykey(ys)] = dict(overlaying=ypr, anchor=xr_, side="right", range=list(c["sr"]), tickvals=c["st"],
                            ticktext=c["sl"], ticks="outside", ticklen=6, tickwidth=1.5, tickcolor=TEAL,
                            showline=True, linecolor=TEAL, linewidth=1.5, zeroline=False, showgrid=False,
                            tickfont=tfont(TEAL),
                            minor=dict(tickvals=c["smin"], ticks="outside", ticklen=3, tickcolor=TEAL, showgrid=False))
    layout[ykey(yj)] = dict(overlaying=ypr, anchor="free", position=px(c["jpos"]), side="right",
                            range=list(c["jr"]), tickvals=c["jt"], ticktext=c["jl"], ticks="inside", ticklen=6,
                            tickwidth=1.5, tickcolor=RED, showline=True, linecolor=RED, linewidth=1.5,
                            zeroline=False, showgrid=False, tickfont=tfont(RED),
                            minor=dict(tickvals=c["jmin"], ticks="inside", ticklen=4, tickcolor=RED, showgrid=False))

    # texts
    text(c["labp"][0], c["labp"][1], "<b>" + c["lab"] + "</b>", 27, BLACK, xanchor="left")
    text(*c["s_t"], "<b>S</b>", 25, TEAL)
    arrow(*c["s_a"], TEAL)
    text(*c["p_t"], "<b>P</b>", 25, BLACK)
    arrow(*c["p_a"], BLACK)
    text(*c["j_t"], "<b>J</b>", 25, RED)
    arrow(*c["j_a"], RED)
    text(*c["ptl"], "<b>P(μC/cm<sup>2</sup>)</b>", 29, BLACK, angle=-90)
    text(*c["stl"], "<b>S(%)</b>", 27, TEAL, angle=-90)
    text(*c["jtl"], "<b>J(A• cm<sup>-2</sup>)</b>", 27, RED, angle=-90)
    text(*c["xtl"], "<b>Electric field (kV/cm)</b>", 24, BLACK)

# ---------------- panel (g) ----------------
fig.add_trace(go.Scatter(x=X_G, y=PM, mode="lines+markers", xaxis="x7", yaxis="y19",
                         name="<i>P</i><sub>m</sub>", line=dict(color=BLACK, width=2.2),
                         marker=dict(symbol="square", size=14, color=BLACK)))
fig.add_trace(go.Scatter(x=X_G, y=PR, mode="lines+markers", xaxis="x7", yaxis="y19",
                         name='<span style="color:#FF0000"><i>P</i><sub>r</sub></span>',
                         line=dict(color=RED, width=2.2), marker=dict(symbol="circle", size=15, color=RED)))
fig.add_trace(go.Scatter(x=X_G, y=EC, mode="lines+markers", xaxis="x7", yaxis="y20",
                         name='<span style="color:#0000FF"><i>E</i><sub>c</sub></span>',
                         line=dict(color=BLUE, width=2.2), marker=dict(symbol="triangle-up", size=13, color=BLUE)))

layout["xaxis7"] = dict(domain=[px(85), px(415)], range=[-0.0052, 0.055], anchor="y19", tickvals=X_G,
                        ticktext=X_G_LABELS, ticks="outside", ticklen=6, tickwidth=1.5, tickcolor=BLACK,
                        showline=True, linecolor=BLACK, linewidth=1.5, mirror=True, zeroline=False,
                        showgrid=False, tickfont=tfont(BLACK),
                        minor=dict(tickvals=[0.005, 0.015, 0.025, 0.035, 0.045], ticks="outside", ticklen=4,
                                   tickcolor=BLACK, showgrid=False))
layout["yaxis19"] = dict(domain=[py(1291), py(1012)], range=[0, 45], anchor="x7",
                         tickvals=[0, 5, 10, 15, 20, 25, 30, 35, 40, 45],
                         ticktext=["0", "5", "10", "15", "20", "25", "30", "35", "40", "45"],
                         ticks="outside", ticklen=6, tickwidth=1.5, tickcolor=BLACK, showline=True,
                         linecolor=BLACK, linewidth=1.5, zeroline=False, showgrid=False, tickfont=tfont(BLACK))
layout["yaxis20"] = dict(overlaying="y19", anchor="x7", side="right", range=[0, 45],
                         tickvals=[0, 10, 20, 30, 40], ticktext=["0", "10", "20", "30", "40"],
                         ticks="inside", ticklen=6, tickwidth=1.5, tickcolor=BLUE, showline=True,
                         linecolor=BLUE, linewidth=2, zeroline=False, showgrid=False, tickfont=tfont(BLUE),
                         minor=dict(tickvals=[5, 15, 25, 35], ticks="inside", ticklen=4, tickcolor=BLUE,
                                    showgrid=False))

text(388, 1033, "<b>(g)</b>", 27, BLACK)
text(33, 1142, "<b>P(μC/cm<sup>2</sup>)</b>", 29, BLACK, angle=-90)
text(467, 1153, "<b><i>E</i><sub>c</sub>(kV/cm)</b>", 29, BLUE, angle=-90)
text(248, 1345, "<b>Value of  x</b>", 27, BLACK)

for (cx, cy, w, h, col) in [(336, 1098, 23, 46, BLACK), (224, 1089, 25, 47, RED), (198, 1153, 27, 43, BLUE)]:
    shapes.append(dict(type="circle", xref="paper", yref="paper", x0=px(cx - w / 2), x1=px(cx + w / 2),
                       y0=py(cy + h / 2), y1=py(cy - h / 2), line=dict(color=col, width=2)))
arrow(325, 1108, 294, 1108, BLACK)
arrow(214, 1072, 189, 1072, RED)
arrow(211, 1145, 235, 1145, BLUE)

fig.update_layout(
    width=W, height=H, margin=dict(l=0, r=0, t=0, b=0, pad=0, autoexpand=False), autosize=False,
    paper_bgcolor="white", plot_bgcolor="white",
    font=dict(family=FONT, color=BLACK),
    annotations=annotations, shapes=shapes,
    legend=dict(x=px(102), y=py(1170), xanchor="left", yanchor="top", bgcolor="rgba(0,0,0,0)",
                font=dict(family=FONT, size=24, color=BLACK), itemwidth=30, tracegroupgap=0),
    **layout,
)

fig.write_html("out.html")
